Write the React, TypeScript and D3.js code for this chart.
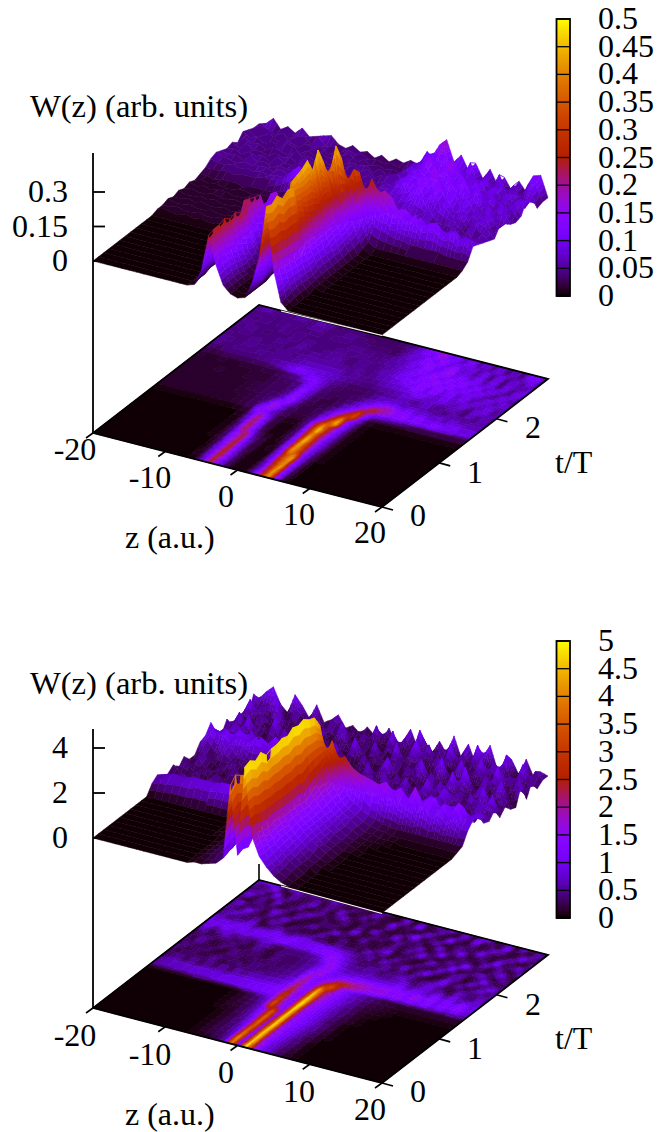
import React from "react";
import * as d3 from "d3";

// W(z,t): one row per t step, columns z = -20..20
const zNodes = d3.range(-20, 21);
const stepsPerRow = 32;
const tMax = 2.9;

// upper panel, in units of 0.01
const upperW = [
  [0,0,0,0,0,0,0,0,0,0,0,0,0, 0,1,8,24,12,4,1,0,1,8,20,43,16,3,0, 0,0,0,0,0,0,0,0,0,0,0,0,0],
  [0,0,0,0,0,0,0,0,0,0,0,0,0, 0,2,9,25,13,4,1,0,1,7,22,42,15,3,0, 0,0,0,0,0,0,0,0,0,0,0,0,0],
  [0,0,0,0,0,0,0,0,0,0,0,0,0, 0,2,10,25,13,4,1,0,1,6,24,44,14,4,0, 0,0,0,0,0,0,0,0,0,0,0,0,0],
  [0,0,0,0,0,0,0,0,0,0,0,0,0, 0,3,11,26,12,4,1,0,1,8,27,41,14,4,0, 0,0,0,0,0,0,0,0,0,0,0,0,0],
  [0,0,0,0,0,0,0,0,0,0,0,0,0, 0,3,12,24,11,3,1,0,1,10,30,43,13,4,0, 0,0,0,0,0,0,0,0,0,0,0,0,0],
  [0,0,0,0,0,0,0,0,0,0,0,0,0, 1,3,13,25,10,3,1,0,2,11,32,42,13,4,1, 0,0,0,0,0,0,0,0,0,0,0,0,0],
  [0,0,0,0,0,0,0,0,0,0,0,0,0, 1,4,15,23,8,3,1,0,2,13,42,30,12,4,1, 0,0,0,0,0,0,0,0,0,0,0,0,0],
  [0,0,0,0,0,0,0,0,0,0,0,0,0, 1,5,16,24,7,3,1,0,3,14,43,28,12,5,1, 0,0,0,0,0,0,0,0,0,0,0,0,0],
  [0,0,0,0,0,0,0,0,0,0,0,0,0, 1,5,24,14,4,1,0,1,3,15,44,26,12,5,1, 0,0,0,0,0,0,0,0,0,0,0,0,0],
  [0,0,0,0,0,0,0,0,0,0,0,0,0, 1,6,23,13,3,1,0,1,4,17,46,25,12,5,1, 0,0,0,0,0,0,0,0,0,0,0,0,0],
  [0,0,0,0,0,0,0,0,0,0,0,0,0, 2,8,22,11,3,1,0,1,4,20,40,24,12,5,1, 0,0,0,0,0,0,0,0,0,0,0,0,0],
  [0,0,0,0,0,0,0,0,0,0,0,0,0, 2,9,21,10,3,1,0,1,5,22,47,26,13,5,1, 0,0,0,0,0,0,0,0,0,0,0,0,0],
  [1,2,1,1,2,1,2,1,1,2,1,2,2, 3,16,12,6,3,2,1,2,6,24,40,26,13,6,1, 0,0,0,0,0,0,0,0,0,0,0,0,0],
  [1,1,2,1,1,2,1,1,2,1,2,2,2, 4,10,18,8,4,2,2,2,5,14,30,46,14,6,1, 0,0,0,0,0,0,0,0,0,0,0,0,0],
  [2,1,1,2,1,1,2,1,1,2,1,2,2, 3,6,17,10,4,2,2,2,4,10,22,39,16,7,2, 0,0,0,0,0,0,0,0,0,0,0,0,0],
  [1,1,2,1,2,1,1,2,1,2,2,2,3, 3,4,8,16,7,3,2,2,3,7,16,26,33,10,3, 1,1,1,1,1,1,1,1,1,1,1,1,1],
  [2,1,1,2,1,2,1,1,2,1,2,2,3, 3,3,6,15,8,3,2,2,3,5,9,17,30,16,8, 7,6,5,5,4,4,4,4,4,3,3,3,3],
  [1,2,1,1,2,1,1,2,1,2,2,2,3, 3,3,5,14,8,4,3,2,2,4,6,10,17,26,20, 17,14,16,12,15,11,13,14,10,12,9,11,8],
  [2,1,2,1,2,2,1,1,2,2,1,2,3, 3,3,5,13,9,4,3,3,2,3,4,7,11,15,20, 18,12,14,9,12,8,10,7,9,10,6,8,7],
  [1,2,1,2,1,1,2,2,1,2,2,2,3, 3,4,6,13,9,5,3,3,3,3,3,5,7,9,10, 9,7,10,6,8,5,7,5,8,4,7,5,6],
  [2,2,1,2,2,2,1,2,2,2,2,3,4, 5,6,13,12,8,5,4,3,3,3,3,4,5,6,6, 7,5,4,7,4,6,3,7,4,6,3,7,5],
  [3,3,3,4,3,4,4,4,5,5,6,8,11, 14,11,9,8,7,6,5,4,4,4,4,4,5,5,6, 8,5,7,9,5,4,8,5,3,9,5,7,4],
  [5,4,4,5,4,5,4,5,4,5,5,6,6, 8,7,8,8,8,6,5,5,5,4,5,6,6,7,8, 10,12,7,6,11,8,5,10,4,7,10,4,8],
  [6,5,4,4,5,4,5,5,4,6,4,5,6, 5,7,6,5,7,4,5,6,4,5,6,7,8,9,11, 14,8,14,7,11,6,11,5,10,5,9,4,7],
  [5,4,5,3,6,4,5,3,5,4,5,4,6, 6,4,6,5,4,5,6,3,5,6,7,8,10,13,10, 15,9,15,8,14,7,11,6,5,11,4,10,5],
  [4,5,3,5,4,5,3,6,4,4,6,3,5, 4,6,5,6,3,5,4,6,4,7,5,10,12,9,14, 11,17,9,15,8,13,8,12,6,4,11,5,4],
  [5,3,6,4,4,3,5,4,5,3,6,5,3, 5,4,6,3,5,4,6,3,5,4,8,7,11,13,11, 17,8,15,9,15,7,13,5,11,6,5,10,5],
  [3,6,4,5,3,5,4,3,6,4,5,3,5, 3,5,4,6,4,6,3,5,6,7,5,11,8,14,10, 12,16,8,14,8,13,5,11,4,10,3,9,10],
  [6,4,5,3,5,3,6,5,3,5,3,5,4, 5,3,5,4,5,3,5,3,4,6,7,9,12,16,9, 11,17,8,8,5,11,4,10,3,9,7,4,9],
  [5,3,4,6,3,6,4,3,5,4,6,3,5, 4,6,3,5,3,4,3,4,3,6,9,7,14,8,16, 7,12,6,11,4,10,3,10,4,8,4,10,3],
  [4,6,5,3,5,3,5,6,3,7,4,5,3, 5,4,5,3,4,3,4,3,4,5,7,13,9,18,11, 10,6,13,5,8,4,11,4,8,3,10,11,4],
  [4,5,8,4,6,4,7,4,5,6,7,4,3, 5,3,4,2,4,2,4,3,5,4,8,9,15,18,9, 13,7,11,5,10,4,8,3,8,4,12,13,4],
];

// lower panel, in units of 0.1
const lowerW = [
  [0,0,0,0,0,0,0,0,0,0,0,0,0, 0,1,1,2,3,6,39,9,49,19,11,7,4,2,1, 0,0,0,0,0,0,0,0,0,0,0,0,0],
  [0,0,0,0,0,0,0,0,0,0,0,0,0, 0,1,1,2,3,7,42,10,50,19,11,7,4,2,1, 0,0,0,0,0,0,0,0,0,0,0,0,0],
  [0,0,0,0,0,0,0,0,0,0,0,0,0, 0,1,2,3,4,8,40,9,48,18,11,7,4,3,1, 0,0,0,0,0,0,0,0,0,0,0,0,0],
  [0,0,0,0,0,0,0,0,0,0,0,0,0, 0,1,2,3,4,9,38,12,50,17,11,8,5,3,1, 0,0,0,0,0,0,0,0,0,0,0,0,0],
  [0,0,0,0,0,0,0,0,0,0,0,0,0, 0,1,2,3,5,10,36,13,47,18,12,8,5,3,2, 0,0,0,0,0,0,0,0,0,0,0,0,0],
  [0,0,0,0,0,0,0,0,0,0,0,0,0, 0,1,2,3,5,11,36,14,48,18,12,9,6,3,2, 1,0,0,0,0,0,0,0,0,0,0,0,0],
  [0,0,0,0,0,0,0,0,0,0,0,0,0, 1,1,2,3,6,12,38,14,48,17,12,9,6,4,2, 1,0,0,0,0,0,0,0,0,0,0,0,0],
  [0,0,0,0,0,0,0,0,0,0,0,0,0, 1,1,2,4,6,14,36,13,49,17,13,10,7,5,3, 1,0,0,0,0,0,0,0,0,0,0,0,0],
  [0,0,0,0,0,0,0,0,0,0,0,0,0, 1,2,2,4,7,16,33,12,48,17,13,10,7,4,3, 1,0,0,0,0,0,0,0,0,0,0,0,0],
  [0,0,0,0,0,0,0,0,0,0,0,0,0, 1,2,3,4,8,33,17,12,50,17,13,10,7,4,3, 1,1,0,0,0,0,0,0,0,0,0,0,0],
  [0,0,0,0,0,0,0,0,0,0,0,0,0, 1,2,3,5,9,31,16,12,49,16,13,10,7,5,3, 2,1,0,0,0,0,0,0,0,0,0,0,0],
  [4,5,5,6,6,6,7,7,7,8,8,8,9, 9,10,10,11,12,28,15,13,50,18,14,10,7,5,3, 2,1,1,0,0,0,0,0,0,0,0,0,0],
  [6,7,8,8,8,9,9,9,9,10,10,10,10, 11,11,12,13,14,26,16,14,48,20,15,10,8,5,4, 2,1,1,1,0,0,0,0,0,0,0,0,0],
  [2,5,6,3,6,2,6,4,7,3,7,5,8, 7,8,8,9,12,24,15,14,47,21,15,11,8,6,4, 2,2,1,1,1,0,0,0,0,0,0,0,0],
  [3,2,5,2,5,3,5,1,5,2,6,3,6, 5,5,6,7,10,22,14,14,42,24,16,11,8,6,4, 3,2,2,1,1,1,1,1,1,1,1,1,1],
  [5,2,2,5,1,3,6,2,2,5,2,5,2, 4,4,5,6,8,20,13,13,26,34,18,12,9,7,5, 4,3,2,2,2,2,2,2,2,2,2,2,2],
  [2,6,2,3,5,1,2,4,5,1,3,4,5, 3,4,4,5,7,18,13,12,16,24,26,22,20,17,15, 16,11,14,10,13,9,12,8,11,7,10,7,7],
  [5,1,6,2,2,5,1,6,2,3,5,1,3, 4,3,4,5,7,14,17,11,10,14,15,16,17,16,15, 17,13,16,11,18,12,15,10,14,11,16,9,10],
  [2,3,6,4,1,3,6,1,3,5,2,2,6, 3,4,3,4,6,9,16,11,8,8,9,9,9,9,10, 9,13,7,11,9,6,13,7,11,6,12,7,10],
  [2,5,1,3,6,4,2,5,1,6,4,1,3, 4,3,4,5,6,10,17,10,6,6,5,6,6,5,6, 6,9,4,6,9,5,7,3,9,6,4,9,5],
  [6,8,3,7,8,4,7,3,5,8,6,3,5, 5,4,5,6,9,17,12,8,5,4,5,7,2,5,4, 9,4,2,6,9,5,2,1,7,4,2,7,4],
  [7,11,8,12,7,11,9,12,10,8,12,13,9, 11,10,12,13,14,13,10,7,5,2,4,2,7,1,5, 2,7,2,1,5,11,2,7,1,4,9,2,7],
  [11,6,10,7,11,9,6,10,8,12,8,9,12, 9,10,9,10,9,8,7,5,2,7,1,9,2,4,9, 1,4,11,2,1,7,4,1,9,2,5,11,2],
  [4,7,2,5,4,9,2,1,5,7,2,4,5, 7,2,4,1,5,2,4,1,9,2,4,1,7,2,1, 5,2,1,9,2,4,7,1,2,11,4,1,5],
  [2,5,9,4,2,5,1,7,4,1,5,2,1, 2,7,1,2,5,1,2,4,1,5,11,2,1,5,2, 1,9,4,2,12,1,2,5,9,2,1,7,2],
  [7,4,2,11,4,1,5,2,9,2,1,4,7, 1,2,9,4,1,2,7,1,2,2,4,1,7,2,11, 4,1,2,7,2,13,4,2,1,4,11,2,1],
  [2,9,4,2,5,2,11,4,1,7,2,1,2, 5,4,1,2,11,2,1,5,4,1,7,2,2,9,1, 2,12,2,1,5,2,1,9,2,7,1,2,9],
  [5,1,2,7,2,4,1,5,2,4,9,2,4, 1,2,5,1,4,1,9,2,1,11,1,4,5,1,2, 9,1,4,11,1,2,5,2,12,1,4,9,1],
  [4,11,2,5,1,9,2,2,7,1,2,7,1, 4,9,2,1,5,2,1,4,2,1,5,12,1,4,7, 1,2,7,2,4,11,2,1,4,7,2,1,7],
  [2,4,7,1,11,2,5,1,4,9,2,4,2, 9,1,2,7,1,4,2,11,1,4,1,2,9,2,1, 12,2,1,5,1,2,9,4,1,2,11,4,2],
  [9,2,4,11,2,1,7,4,2,5,1,7,4, 1,5,2,1,9,2,1,2,7,1,12,2,1,7,2, 1,7,2,12,2,5,1,11,2,4,1,7,4],
  [5,9,12,5,2,11,7,2,9,2,4,7,2, 4,1,5,2,1,7,1,2,9,1,5,1,7,2,11, 2,9,1,5,11,1,4,7,1,9,2,5,4],
];

const zTicks = [-20, -10, 0, 10, 20];
const tTicks = [0, 1, 2];
const upperHeightTicks = [0, 0.15, 0.3];
const lowerHeightTicks = [0, 2, 4];
const upperBarTicks = ["0", "0.05", "0.1", "0.15", "0.2", "0.25", "0.3", "0.35", "0.4", "0.45", "0.5"];
const lowerBarTicks = ["0", "0.5", "1", "1.5", "2", "2.5", "3", "3.5", "4", "4.5", "5"];

// gnuplot's default pm3d palette (rgbformulae 7,5,15)
const palette = (x: number) => {
  const v = Math.max(0, Math.min(1, x));
  return d3
    .rgb(255 * Math.sqrt(v), 255 * v * v * v, 255 * Math.max(0, Math.sin(2 * Math.PI * v)))
    .formatRgb();
};

const font = "'Liberation Serif', serif";

const Label = ({ x, y, anchor = "start", size = 32, children }: any) => (
  <text x={x} y={y} textAnchor={anchor} fontFamily={font} fontSize={size} fill="#000">
    {children}
  </text>
);

// Shade one mesh quad in small strips so the colour follows the height across it
const shadeCell = (w: number[], emit: (s0: number, s1: number, r0: number, r1: number, shade: number) => void) => {
  const [a, b, c, d] = w;
  const nz = Math.min(8, Math.max(1, Math.ceil(Math.max(Math.abs(b - a), Math.abs(c - d)) / 0.05)));
  const nt = Math.min(4, Math.max(1, Math.ceil(Math.max(Math.abs(d - a), Math.abs(c - b)) / 0.07)));
  const at = (s: number, r: number) => (a * (1 - s) + b * s) * (1 - r) + (d * (1 - s) + c * s) * r;
  for (let q = nt - 1; q >= 0; q--) {
    for (let p = 0; p < nz; p++) {
      const s0 = p / nz;
      const s1 = (p + 1) / nz;
      const r0 = q / nt;
      const r1 = (q + 1) / nt;
      emit(s0, s1, r0, r1, at((s0 + s1) / 2, (r0 + r1) / 2));
    }
  }
};

const Panel = ({ rows, unit, heightTicks, barTicks, barMax, g, backPost }: any) => {
  const uOf = d3.scaleLinear().domain([-20, 20]).range([0, 1]);
  const vOf = d3.scaleLinear().domain([0, tMax]).range([0, 1]);
  const rowT = d3.scaleLinear().domain([0, stepsPerRow - 1]).range([0, tMax]);
  const hOf = d3.scaleLinear().domain([0, barMax]).range([0, g.pxTop]);
  const px = (z: number, t: number) => g.ox + g.ax * uOf(z) + g.bx * vOf(t);
  const py = (z: number, t: number) => g.oy + g.ay * uOf(z) + g.by * vOf(t);
  const level = d3.scaleQuantize<number>().domain([0, 1]).range(d3.range(0.0039, 1, 1 / 128));

  const floorByColor = new Map<number, string>();
  const surfaceRuns: { shade: number; d: string }[] = [];

  // far rows first, near columns last
  for (let j = rows.length - 2; j >= 0; j--) {
    for (let i = 0; i < zNodes.length - 1; i++) {
      const w = [rows[j][i], rows[j][i + 1], rows[j + 1][i + 1], rows[j + 1][i]].map((v: number) => (v * unit) / barMax);
      shadeCell(w, (s0, s1, r0, r1, shade) => {
        const at = (s: number, r: number) => {
          const z = zNodes[i] + s;
          const t = rowT(j + r);
          const h = ((w[0] * (1 - s) + w[1] * s) * (1 - r) + (w[3] * (1 - s) + w[2] * s) * r) * barMax;
          return [px(z, t), py(z, t), h];
        };
        const quad = [at(s0, r0), at(s1, r0), at(s1, r1), at(s0, r1)];
        const key = level(shade);
        const floorD = d3.line()(quad.map((q) => [q[0], q[1]] as [number, number])) + "Z";
        floorByColor.set(key, (floorByColor.get(key) || "") + floorD);
        const topD =
          d3.line()(quad.map((q) => [q[0], q[1] - g.lift - hOf(q[2])] as [number, number])) + "Z";
        const last = surfaceRuns[surfaceRuns.length - 1];
        if (last && last.shade === key) last.d += topD;
        else surfaceRuns.push({ shade: key, d: topD });
      });
    }
  }

  const cbY = d3.scaleLinear().domain([0, 1]).range([g.barBottom, g.barTop]);
  const barSteps = d3.range(0, 1, 1 / 140);
  const rim = [
    [px(-20, 0), py(-20, 0)],
    [px(20, 0), py(20, 0)],
    [px(20, tMax), py(20, tMax)],
    [px(-20, tMax), py(-20, tMax)],
  ] as [number, number][];

  return (
    <g>
      <line x1={g.ox} x2={g.ox} y1={g.oy} y2={g.axisTop} stroke="#000" strokeWidth={1.8} />
      {heightTicks.map((h: number) => (
        <g key={h}>
          <line
            x1={g.ox}
            x2={g.ox + 12}
            y1={g.oy - g.lift - hOf(h)}
            y2={g.oy - g.lift - hOf(h)}
            stroke="#000"
            strokeWidth={1.8}
          />
          <Label x={68} y={g.oy - g.lift - hOf(h) + 10} anchor="end">
            {h}
          </Label>
        </g>
      ))}
      {backPost && (
        <line x1={px(-20, tMax)} x2={px(-20, tMax)} y1={py(-20, tMax)} y2={py(-20, tMax) - 16} stroke="#000" strokeWidth={1.6} />
      )}
      {[...floorByColor.entries()].map(([key, d]) => (
        <path key={key} d={d} fill={palette(key)} stroke={palette(key)} strokeWidth={0.7} />
      ))}
      <path d={d3.line()(rim) + "Z"} fill="none" stroke="#000" strokeWidth={1.8} />
      {zTicks.map((z) => (
        <line key={z} x1={px(z, 0)} y1={py(z, 0)} x2={px(z, 0) - 7} y2={py(z, 0) + 5} stroke="#000" strokeWidth={1.6} />
      ))}
      {tTicks.map((t) => (
        <line key={t} x1={px(20, t)} y1={py(20, t)} x2={px(20, t) + 11} y2={py(20, t) + 3} stroke="#000" strokeWidth={1.6} />
      ))}
      {surfaceRuns.map((run, n) => (
        <path key={n} d={run.d} fill={palette(run.shade)} stroke={palette(run.shade)} strokeWidth={0.5} />
      ))}
      <line
        x1={px(-20, tMax) + 22}
        y1={py(-20, tMax) + 6}
        x2={px(20, 0)}
        y2={g.oy + g.ay - g.lift + 0.5}
        stroke="#fff"
        strokeWidth={1.2}
      />

      {zTicks.map((z, i) => (
        <Label key={z} x={g.zLabels[i][0]} y={g.zLabels[i][1]} anchor="middle">
          {z}
        </Label>
      ))}
      {tTicks.map((t, i) => (
        <Label key={t} x={g.tLabels[i][0]} y={g.tLabels[i][1]} anchor="middle">
          {t}
        </Label>
      ))}
      <Label x={125} y={g.zTitleY}>z (a.u.)</Label>
      <Label x={555} y={g.tTitleY}>t/T</Label>
      <Label x={30} y={g.titleY} size={32.6}>W(z) (arb. units)</Label>

      {barSteps.map((s) => (
        <rect
          key={s}
          x={556.5}
          width={13.5}
          y={cbY(s + 1 / 140) - 0.5}
          height={(g.barBottom - g.barTop) / 140 + 1}
          fill={palette(s)}
        />
      ))}
      <rect x={556.5} y={g.barTop} width={13.5} height={g.barBottom - g.barTop} fill="none" stroke="#000" strokeWidth={1.8} />
      {barTicks.map((lab: string, i: number) => {
        const y = cbY(i / (barTicks.length - 1));
        return (
          <g key={lab}>
            <line x1={556.5} x2={570} y1={y} y2={y} stroke="#000" strokeWidth={1.3} />
            <Label x={598} y={y + 10}>{lab}</Label>
          </g>
        );
      })}
    </g>
  );
};

const upperGeometry = {
  ox: 93, oy: 433, ax: 289, ay: 74, bx: 166, by: -128, lift: 172, pxTop: 115, axisTop: 153,
  barTop: 19, barBottom: 296,
  zLabels: [[75, 460], [150, 488], [226, 507], [299, 525], [370, 543]],
  tLabels: [[418, 526], [475, 483], [533, 438]],
  zTitleY: 548, tTitleY: 473, titleY: 117,
};

const lowerGeometry = {
  ox: 93, oy: 1008, ax: 289, ay: 75, bx: 166, by: -128, lift: 170, pxTop: 112.5, axisTop: 729,
  barTop: 641, barBottom: 918,
  zLabels: [[75, 1046], [150, 1065], [226, 1083], [299, 1102], [370, 1120]],
  tLabels: [[418, 1102], [475, 1059], [533, 1015]],
  zTitleY: 1125, tTitleY: 1049, titleY: 694,
};

export default function App() {
  return (
    <svg width={657} height={1132} style={{ position: "absolute", left: 0, top: 0, background: "#fff" }}>
      <Panel rows={upperW} unit={0.01} heightTicks={upperHeightTicks} barTicks={upperBarTicks} barMax={0.5} g={upperGeometry} />
      <Panel rows={lowerW} unit={0.1} heightTicks={lowerHeightTicks} barTicks={lowerBarTicks} barMax={5} g={lowerGeometry} backPost />
    </svg>
  );
}
